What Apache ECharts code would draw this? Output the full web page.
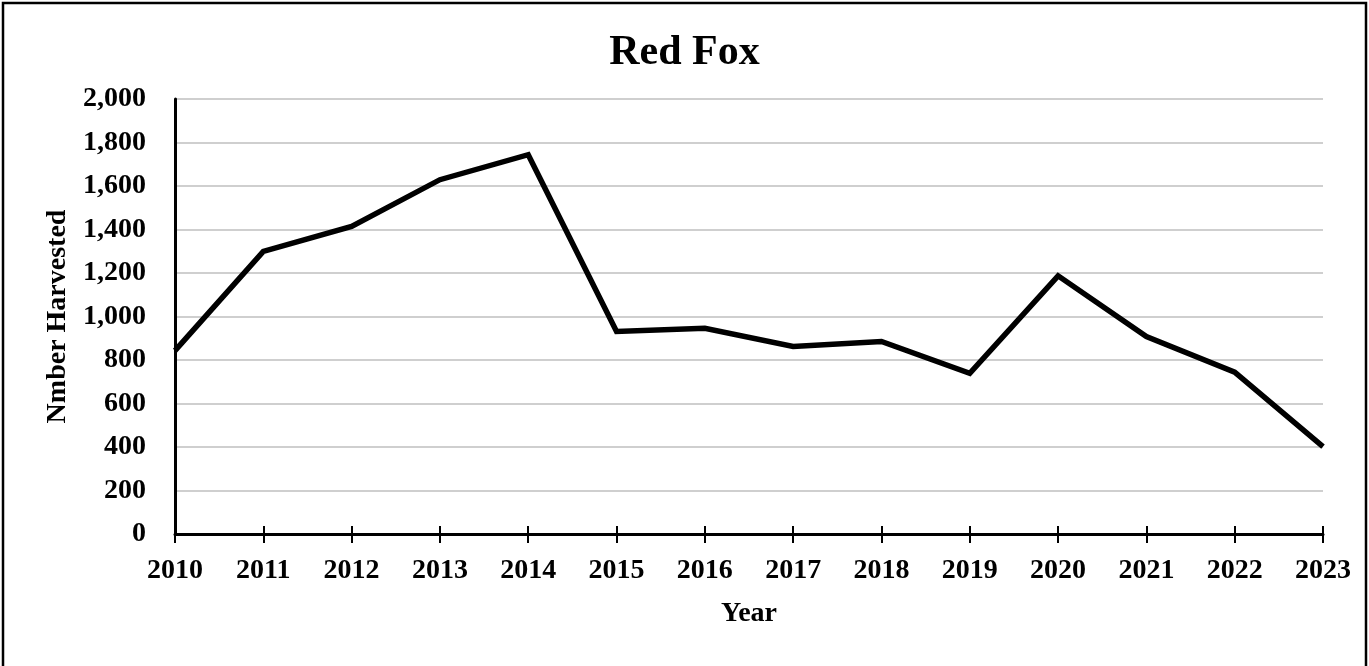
<!DOCTYPE html>
<html>
<head>
<meta charset="utf-8">
<title>Red Fox</title>
<script src="https://cdn.jsdelivr.net/npm/echarts@6/dist/echarts.min.js"></script>
<style>
  html, body { margin: 0; padding: 0; background: #fff; }
  #chart { width: 1369px; height: 666px; }
</style>
</head>
<body>
<div id="chart"></div>
<script>
// Harvest counts per year
const years = ['2010','2011','2012','2013','2014','2015','2016','2017','2018','2019','2020','2021','2022','2023'];
const harvested = [843, 1299, 1414, 1629, 1744, 931, 946, 862, 885, 739, 1187, 908, 744, 402];
const yTicks = { min: 0, max: 2000, interval: 200 };

const FONT = '"Times New Roman", "Liberation Serif", serif';

const chart = echarts.init(document.getElementById('chart'), null, { renderer: 'canvas' });

chart.setOption({
  backgroundColor: '#ffffff',
  animation: false,
  title: {
    text: 'Red Fox',
    left: 'center',
    top: 27,
    textStyle: { fontFamily: FONT, fontWeight: 'bold', fontSize: 42, color: '#000' }
  },
  graphic: [{
    type: 'rect',
    shape: { x: 3, y: 3, width: 1363, height: 720 },
    style: { fill: 'none', stroke: '#000', lineWidth: 2.5 },
    silent: true
  }],
  grid: { left: 175, right: 46, top: 99, bottom: 132, containLabel: false },
  xAxis: [{
    type: 'category',
    data: years,
    boundaryGap: false,
    name: 'Year',
    nameLocation: 'middle',
    nameGap: 66,
    nameTextStyle: { fontFamily: FONT, fontWeight: 'bold', fontSize: 28, color: '#000' },
    axisLine: { lineStyle: { color: '#000', width: 3 } },
    axisTick: { show: true, inside: false, length: 9, lineStyle: { color: '#000', width: 2 } },
    axisLabel: { margin: 23, fontFamily: FONT, fontWeight: 'bold', fontSize: 28, color: '#000' },
    splitLine: { show: false }
  }, {
    // second copy of the category axis to draw the ticks above the line as well
    type: 'category',
    data: years,
    boundaryGap: false,
    position: 'bottom',
    axisLine: { show: false },
    axisTick: { show: true, inside: true, length: 8, lineStyle: { color: '#000', width: 2 } },
    axisLabel: { show: false },
    splitLine: { show: false }
  }],
  yAxis: {
    type: 'value',
    min: yTicks.min,
    max: yTicks.max,
    interval: yTicks.interval,
    name: 'Nmber Harvested',
    nameLocation: 'middle',
    nameRotate: 90,
    nameGap: 98,
    nameTextStyle: { fontFamily: FONT, fontWeight: 'bold', fontSize: 28, color: '#000' },
    axisLine: { show: true, lineStyle: { color: '#000', width: 3 } },
    axisTick: { show: false },
    axisLabel: {
      margin: 29,
      fontFamily: FONT, fontWeight: 'bold', fontSize: 28, color: '#000',
      formatter: v => v.toLocaleString('en-US')
    },
    splitLine: { show: true, lineStyle: { color: '#bfbfbf', width: 1.5 } }
  },
  series: [{
    type: 'line',
    data: harvested,
    xAxisIndex: 0,
    symbol: 'none',
    lineStyle: { color: '#000', width: 5.5, join: 'miter' },
    z: 5
  }]
});
</script>
</body>
</html>
